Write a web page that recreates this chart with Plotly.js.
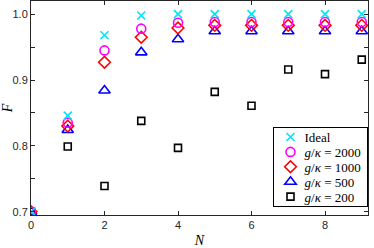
<!DOCTYPE html>
<html><head><meta charset="utf-8">
<script src="https://cdn.plot.ly/plotly-3.0.1.min.js"></script>
<style>html,body{margin:0;padding:0;background:#fff}#chart{width:374px;height:248px}</style>
</head><body><div id="chart"></div>
<script>
const N = [0,1,2,3,4,5,6,7,8,9];
const ideal  = [0.700,0.846,0.968,0.998,1.000,1.000,1.000,1.000,1.000,1.000];
const g2000  = [0.700,0.835,0.945,0.978,0.987,0.988,0.988,0.988,0.988,0.988];
const g1000  = [0.700,0.830,0.927,0.965,0.979,0.983,0.983,0.983,0.983,0.983];
const g500   = [0.700,0.824,0.884,0.942,0.962,0.974,0.974,0.974,0.974,0.974];
const g200   = [0.700,0.799,0.739,0.838,0.797,0.882,0.861,0.916,0.909,0.931];
const names = ['Ideal','<i>g</i>/<i>κ</i> = 2000','<i>g</i>/<i>κ</i> = 1000','<i>g</i>/<i>κ</i> = 500','<i>g</i>/<i>κ</i> = 200'];

function tr(y, name, symbol, color, size){
  return {x:N, y:y, name:name, type:'scatter', mode:'markers',
    marker:{symbol:symbol, size:size, color:color, line:{color:color, width:1.6}}};
}
const data = [
  tr(g200, names[4], 'square-open', '#000000', 7),
  tr(g500, names[3], 'triangle-up-open', '#0000ff', 10),
  tr(g1000, names[2], 'diamond-open', '#ff0000', 9),
  tr(g2000, names[1], 'circle-open', '#ff00ff', 9),
  tr(ideal, names[0], 'x-thin-open', '#00e5f5', 8)
];
const axcol = '#262626';
const layout = {
  width:374, height:248,
  margin:{l:31, r:1, t:1, b:33},
  paper_bgcolor:'#fff', plot_bgcolor:'#fff',
  font:{family:'Liberation Sans, Arial, sans-serif', size:11, color:axcol},
  showlegend:true,
  legend:{x:0.707, y:0.04, xanchor:'left', yanchor:'bottom', traceorder:'reversed',
    bgcolor:'#fff', bordercolor:'#000', borderwidth:1,
    font:{family:'Liberation Serif, serif', size:13, color:'#000'},
    itemwidth:30, tracegroupgap:0},
  xaxis:{range:[0,9.17], tickvals:[0,2,4,6,8], ticks:'inside', ticklen:4, tickcolor:axcol,
    showline:true, linecolor:axcol, linewidth:1, mirror:'ticks', showgrid:false, zeroline:false,
    tickfont:{size:11, color:axcol},
    title:{text:'<i>N</i>', font:{family:'Liberation Serif, serif', size:14, color:'#000'}, standoff:6}},
  yaxis:{range:[0.695,1.02], tickvals:[0.7,0.8,0.9,1.0], ticktext:['0.7','0.8','0.9','1.0'],
    ticks:'inside', ticklen:4, tickcolor:axcol,
    minor:{tickvals:[0.75,0.85,0.95], ticks:'inside', ticklen:4, tickcolor:axcol, showgrid:false},
    showline:true, linecolor:axcol, linewidth:1, mirror:'ticks', showgrid:false, zeroline:false,
    tickfont:{size:11, color:axcol},
    title:{text:'<i>F</i>', font:{family:'Liberation Serif, serif', size:14, color:'#000'}, standoff:2}}
};
const gd = document.getElementById('chart');
Plotly.newPlot(gd, data, layout, {displayModeBar:false, staticPlot:true}).then(function(){
  // tighten legend row spacing to match the compact reference legend
  const leg = gd.querySelector('g.legend');
  if(!leg) return;
  leg.setAttribute('transform','translate(273,127)');
  const bg = leg.querySelector('rect.bg');
  if(bg){ bg.setAttribute('width', 94); bg.setAttribute('height', 79); }
  const items = leg.querySelectorAll('g.traces');
  items.forEach(function(g, i){
    const m = /translate\(\s*([-\d.]+)[ ,]+([-\d.]+)\s*\)/.exec(g.getAttribute('transform')||'');
    const ox = m ? parseFloat(m[1]) : 0;
    g.setAttribute('transform', 'translate(' + (ox - 3.5) + ',' + (10 + i*14.9) + ')');
    const t = g.querySelector('text.legendtext');
    if(t){ const tx = parseFloat(t.getAttribute('x')||'40'); t.setAttribute('x', tx - 6); }
  });
});
</script></body></html>
